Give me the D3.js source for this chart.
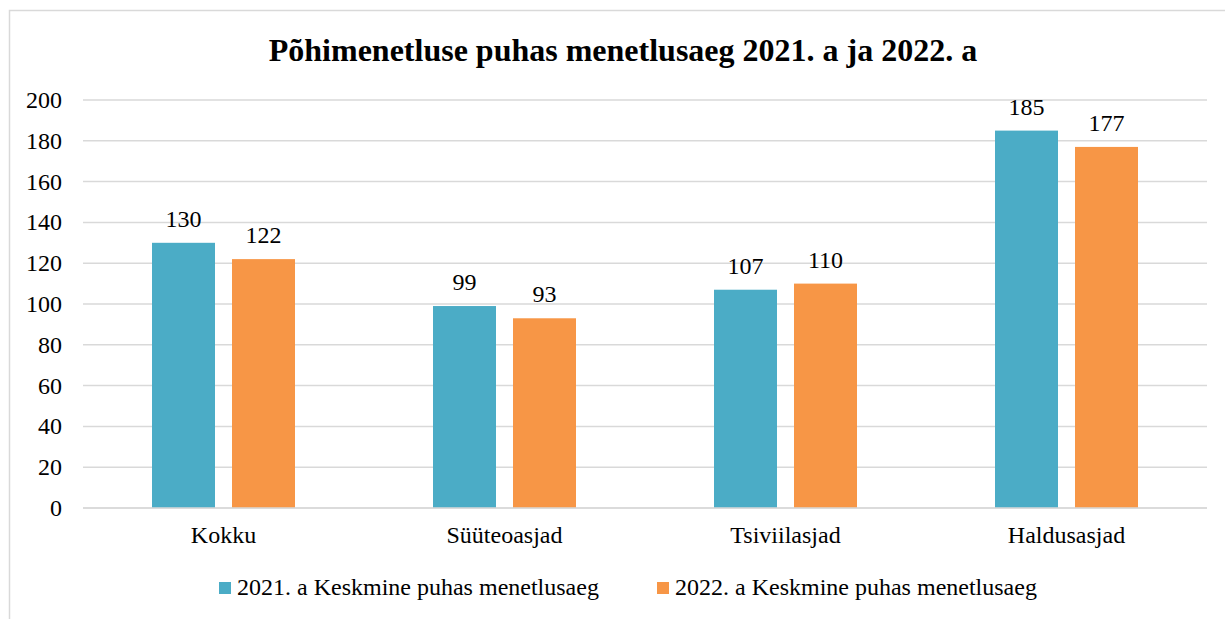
<!DOCTYPE html>
<html>
<head>
<meta charset="utf-8">
<script src="https://cdn.jsdelivr.net/npm/d3@7"></script>
<style>
  body { margin: 0; background: #fff; }
  svg text { font-family: "Liberation Serif", "Times New Roman", serif; fill: #000; }
</style>
</head>
<body>
<svg id="chart" width="1225" height="619"></svg>
<script>
// Data
const categories = ['Kokku', 'Süüteoasjad', 'Tsiviilasjad', 'Haldusasjad'];
const seriesNames = ['2021. a Keskmine puhas menetlusaeg', '2022. a Keskmine puhas menetlusaeg'];
const values2021 = [130, 99, 107, 185];
const values2022 = [122, 93, 110, 177];
const yTicks = [0, 20, 40, 60, 80, 100, 120, 140, 160, 180, 200];
const colors = ['#4bacc6', '#f79646'];

const svg = d3.select('#chart');

// chart frame (only left and top edges visible)
svg.append('rect')
    .attr('x', 9.5).attr('y', 10.5)
    .attr('width', 1240).attr('height', 640)
    .attr('fill', 'none')
    .attr('stroke', '#d9d9d9')
    .attr('stroke-width', 1.5);

// title
svg.append('text')
    .attr('x', 623).attr('y', 61)
    .attr('text-anchor', 'middle')
    .style('font-size', '32px')
    .style('font-weight', 'bold')
    .text('Põhimenetluse puhas menetlusaeg 2021. a ja 2022. a');

const plot = {left: 83, right: 1207, top: 100, bottom: 508};

const x = d3.scaleBand()
    .domain(categories)
    .range([plot.left, plot.right]);

const y = d3.scaleLinear()
    .domain([0, 200])
    .range([plot.bottom, plot.top]);

const barW = 63, gap = 17;

// gridlines
svg.append('g')
    .selectAll('line')
    .data(yTicks)
    .join('line')
    .attr('x1', plot.left).attr('x2', plot.right)
    .attr('y1', d => y(d)).attr('y2', d => y(d))
    .attr('stroke', '#d9d9d9')
    .attr('stroke-width', 1.5);

// y tick labels
svg.append('g')
    .selectAll('text')
    .data(yTicks)
    .join('text')
    .attr('x', 62)
    .attr('y', d => y(d) + 8)
    .attr('text-anchor', 'end')
    .style('font-size', '24px')
    .text(d => d);

// bars
const rows = categories.map((c, i) => ({cat: c, vals: [values2021[i], values2022[i]]}));

const groups = svg.append('g')
    .selectAll('g')
    .data(rows)
    .join('g')
    .attr('transform', d => `translate(${x(d.cat) + x.bandwidth() / 2},0)`);

groups.selectAll('rect')
    .data(d => d.vals)
    .join('rect')
    .attr('x', (d, i) => i === 0 ? -(barW + gap / 2) : gap / 2)
    .attr('y', d => y(d))
    .attr('width', barW)
    .attr('height', d => plot.bottom - y(d))
    .attr('fill', (d, i) => colors[i]);

groups.selectAll('text.val')
    .data(d => d.vals)
    .join('text')
    .attr('class', 'val')
    .attr('x', (d, i) => i === 0 ? -(barW / 2 + gap / 2) : barW / 2 + gap / 2)
    .attr('y', d => y(d) - 16)
    .attr('text-anchor', 'middle')
    .style('font-size', '24px')
    .text(d => d);

// baseline
svg.append('line')
    .attr('x1', plot.left).attr('x2', plot.right)
    .attr('y1', plot.bottom).attr('y2', plot.bottom)
    .attr('stroke', '#d9d9d9')
    .attr('stroke-width', 1.5);

// category labels
svg.append('g')
    .selectAll('text')
    .data(categories)
    .join('text')
    .attr('x', d => x(d) + x.bandwidth() / 2)
    .attr('y', 543)
    .attr('text-anchor', 'middle')
    .style('font-size', '24px')
    .text(d => d);

// legend
const legendX = [219, 657];
const legend = svg.append('g')
    .selectAll('g')
    .data(seriesNames)
    .join('g')
    .attr('transform', (d, i) => `translate(${legendX[i]},582)`);

legend.append('rect')
    .attr('width', 12).attr('height', 12)
    .attr('fill', (d, i) => colors[i]);

legend.append('text')
    .attr('x', 18).attr('y', 13)
    .style('font-size', '24px')
    .text(d => d);
</script>
</body>
</html>
